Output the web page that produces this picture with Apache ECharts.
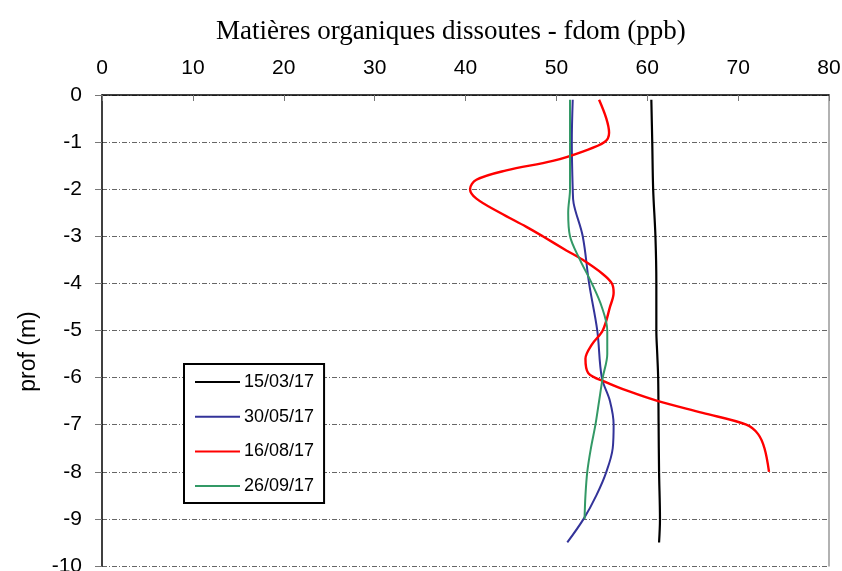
<!DOCTYPE html>
<html>
<head>
<meta charset="utf-8">
<script src="https://cdn.jsdelivr.net/npm/echarts@6/dist/echarts.min.js"></script>
<style>
  html, body { margin: 0; padding: 0; background: #fff; }
  #chart { width: 842px; height: 571px; }
</style>
</head>
<body>
<div id="chart"></div>
<script>
// x ticks / y ticks
const xTicks = [0, 10, 20, 30, 40, 50, 60, 70, 80]
const yTicks = [0, -1, -2, -3, -4, -5, -6, -7, -8, -9, -10]

// 15/03/17
const depthMar = [-0.1, -1, -2, -3, -4, -5, -5.5, -6, -7, -8, -9, -9.5]
const fdomMar = [60.45, 60.55, 60.65, 60.9, 61.0, 61.0, 61.1, 61.2, 61.25, 61.3, 61.4, 61.3]

// 30/05/17
const depthMay = [-0.1, -1, -2, -2.3, -3, -4, -5, -6, -6.5, -7, -7.5, -8, -8.5, -9, -9.5]
const fdomMay = [51.8, 51.7, 51.8, 51.9, 52.9, 53.6, 54.5, 55.0, 55.9, 56.3, 56.2, 55.5, 54.4, 53.0, 51.2]

// 16/08/17
const depthAug = [-0.1, -0.5, -0.8, -1, -1.2, -1.4, -1.6, -1.8, -2, -2.2, -2.5, -2.8, -3, -3.3, -3.5, -3.8, -4, -4.2, -4.5, -5, -5.3, -5.6, -5.9, -6.1, -6.3, -6.5, -6.75, -7, -7.2, -7.5, -8]
const fdomAug = [54.7, 55.5, 55.8, 55.3, 52.9, 49.6, 44.5, 41.2, 40.5, 41.2, 43.8, 46.7, 48.5, 51.1, 52.9, 55.1, 56.1, 56.3, 55.9, 55.1, 53.9, 53.2, 53.5, 55.5, 58.1, 61.2, 66.1, 70.9, 72.2, 72.9, 73.4]

// 26/09/17
const depthSep = [-0.1, -1, -2, -2.5, -3, -3.5, -4, -4.5, -5, -5.5, -6, -6.5, -7, -7.5, -8, -8.5, -9]
const fdomSep = [51.5, 51.5, 51.5, 51.3, 51.5, 52.6, 53.9, 55.0, 55.6, 55.6, 55.1, 54.7, 54.3, 53.8, 53.4, 53.2, 53.1]

const pairs = (xs, ys) => xs.map((x, i) => [x, ys[i]])

const chart = echarts.init(document.getElementById('chart'), null, { renderer: 'canvas' })

const labelFont = { color: '#000', fontFamily: 'Liberation Sans', fontSize: 21 }
const gridDash = [5, 2, 1, 2]

function lineSeries(name, color, width, xs, ys) {
  return {
    name,
    type: 'line',
    smooth: 0.35,
    symbol: 'none',
    lineStyle: { color, width },
    itemStyle: { color },
    data: pairs(xs, ys),
    z: 3
  }
}

const option = {
  backgroundColor: '#fff',
  animation: false,
  title: {
    text: 'Matières organiques dissoutes - fdom (ppb)',
    left: 211,
    top: 13,
    textStyle: { fontFamily: 'Liberation Serif', fontSize: 27, fontWeight: 'normal', color: '#000' }
  },
  grid: { left: 102, top: 95, width: 727, height: 471, containLabel: false, outerBoundsMode: 'none' },
  legend: {
    orient: 'vertical',
    left: 184,
    top: 364,
    padding: [9, 10, 8, 10],
    itemWidth: 45,
    itemHeight: 18,
    itemGap: 16.7,
    backgroundColor: '#fff',
    borderColor: '#000',
    borderWidth: 2,
    borderRadius: 0,
    itemStyle: { opacity: 0 },
    textStyle: { fontFamily: 'Liberation Sans', fontSize: 18, color: '#000', padding: [0, 0, 0, -1] },
    data: ['15/03/17', '30/05/17', '16/08/17', '26/09/17']
  },
  xAxis: {
    type: 'value',
    position: 'top',
    min: xTicks[0],
    max: xTicks[xTicks.length - 1],
    interval: 10,
    axisLine: { show: true, lineStyle: { color: '#000', width: 1.5 } },
    axisTick: { show: true, inside: true, length: 6, lineStyle: { color: '#777' } },
    axisLabel: { ...labelFont, margin: 16 },
    splitLine: { show: false }
  },
  yAxis: [
    {
      type: 'value',
      min: yTicks[yTicks.length - 1],
      max: yTicks[0],
      interval: 1,
      name: 'prof (m)',
      nameLocation: 'middle',
      nameGap: 62,
      nameRotate: 90,
      nameTextStyle: { fontFamily: 'Liberation Sans', fontSize: 23, color: '#000', padding: [0, 42, 0, 0] },
      axisLine: { show: true, lineStyle: { color: '#000', width: 1.5 } },
      axisTick: { show: true, inside: false, length: 7, lineStyle: { color: '#777' } },
      axisLabel: { ...labelFont, margin: 20 },
      splitLine: { show: true, lineStyle: { color: '#666', width: 1, type: gridDash } }
    },
    {
      type: 'value',
      position: 'right',
      min: -10,
      max: 0,
      interval: 1,
      axisLine: { show: true, lineStyle: { color: '#999', width: 1.5 } },
      axisTick: { show: false },
      axisLabel: { show: false },
      splitLine: { show: false }
    }
  ],
  series: [
    lineSeries('15/03/17', '#000000', 2.2, fdomMar, depthMar),
    lineSeries('30/05/17', '#333399', 2, fdomMay, depthMay),
    lineSeries('16/08/17', '#ff0000', 2.4, fdomAug, depthAug),
    lineSeries('26/09/17', '#339966', 2, fdomSep, depthSep)
  ]
}

chart.setOption(option)
</script>
</body>
</html>
